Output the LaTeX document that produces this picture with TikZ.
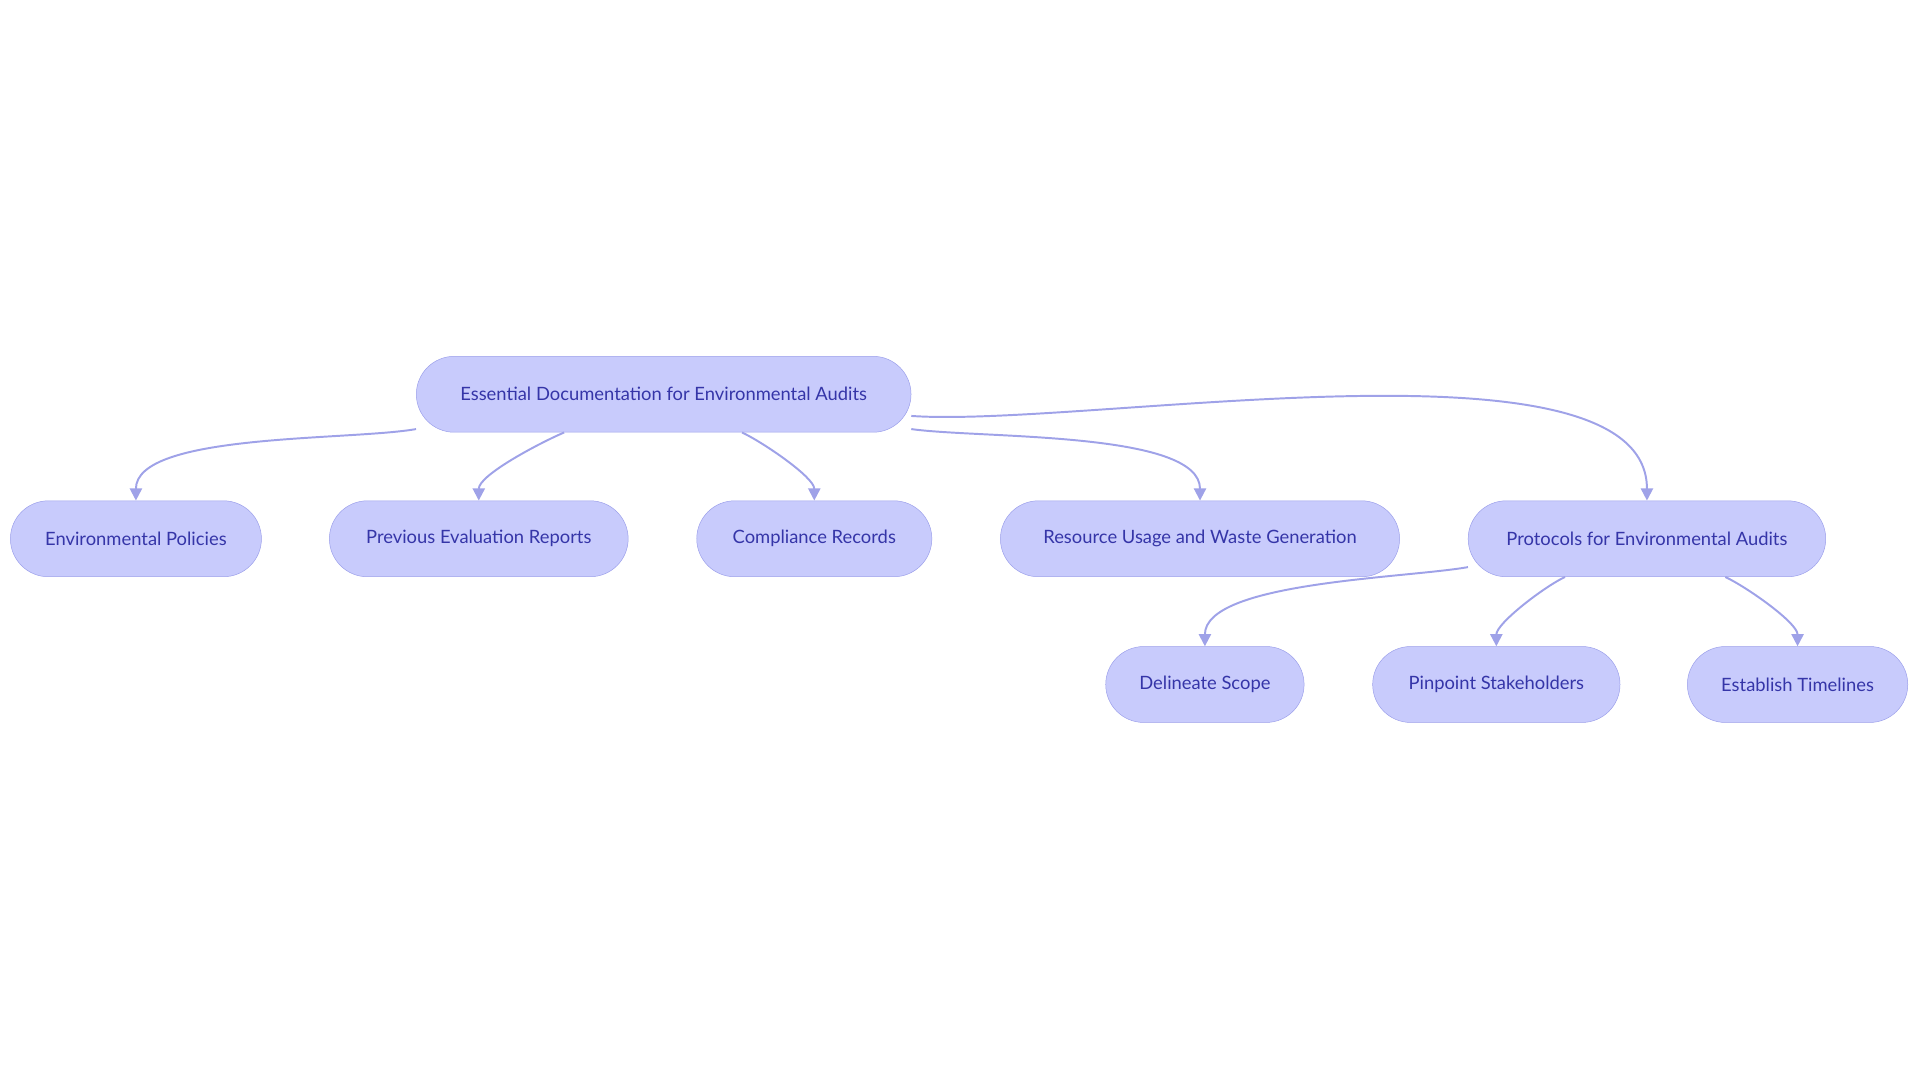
\documentclass[tikz,border=0pt]{standalone}
\usepackage{fontspec}
\setmainfont{Lato}
\usetikzlibrary{arrows.meta}
\definecolor{boxfill}{HTML}{C8CBFC}
\definecolor{boxline}{HTML}{9B9FEA}
\definecolor{boxtext}{HTML}{3535A8}
\definecolor{edgeline}{HTML}{9FA2E8}
\tikzset{
  pill/.style={draw=boxline, fill=boxfill, text=boxtext, rounded corners=31pt,
    minimum height=62pt, inner sep=0pt, font=\fontsize{15}{18}\selectfont},
  link/.style={draw=edgeline, line width=1.6pt, -{Triangle[width=10pt,length=10pt]}, looseness=0.6}
}
\begin{document}
\begin{tikzpicture}[x=1pt, y=1pt]
  \useasboundingbox (0,0) rectangle (1568,884);
  % top level
  \node[pill, minimum width=404pt] (audit) at (542,562) {Essential Documentation for Environmental Audits};
  % second level
  \node[pill, minimum width=205pt] (policies) at (111,444) {Environmental Policies};
  \node[pill, minimum width=244pt] (reports) at (391,444) {Previous Evaluation Reports};
  \node[pill, minimum width=192pt] (compliance) at (665,444) {Compliance Records};
  \node[pill, minimum width=326pt] (resource) at (980,444) {Resource Usage and Waste Generation};
  \node[pill, minimum width=292pt] (protocols) at (1345,444) {Protocols for Environmental Audits};
  % third level
  \node[pill, minimum width=162pt] (scope) at (984,325) {Delineate Scope};
  \node[pill, minimum width=202pt] (stake) at (1222,325) {Pinpoint Stakeholders};
  \node[pill, minimum width=180pt] (timeline) at (1468,325) {Establish Timelines};
  % connectors
  \draw[link] (audit.188) to[out=190, in=90] (policies.north);
  \draw[link] (audit.201) to[out=203, in=90] (reports.north);
  \draw[link] (audit.334.5) to[out=-25, in=90] (compliance.north);
  \draw[link] (audit.352.4) to[out=-8, in=90] (resource.north);
  \draw[link] (audit.355.8) to[out=-4, in=90] (protocols.north);
  \draw[link] (protocols.189.3) to[out=190, in=90] (scope.north);
  \draw[link] (protocols.205.5) to[out=205, in=90] (stake.north);
  \draw[link] (protocols.334.5) to[out=-25, in=90] (timeline.north);
\end{tikzpicture}
\end{document}
